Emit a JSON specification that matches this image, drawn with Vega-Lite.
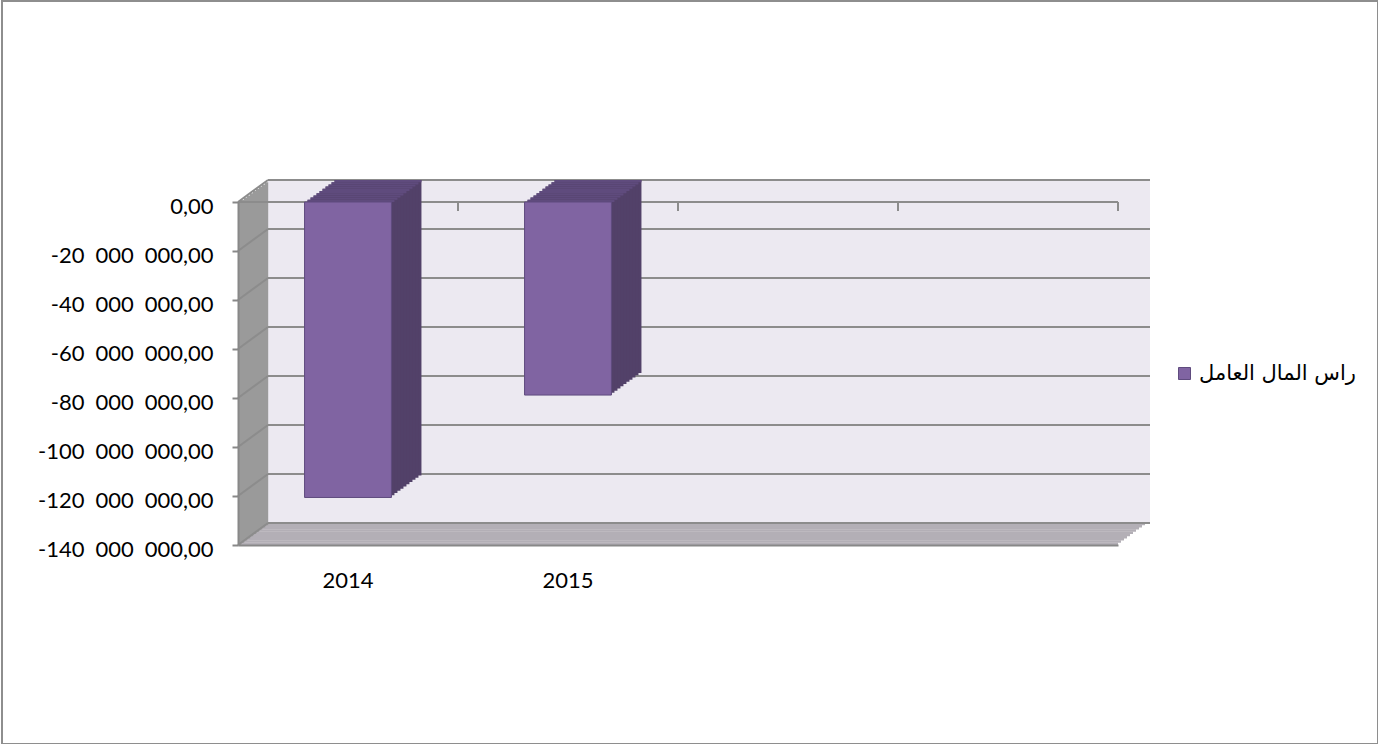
{
"$schema": "https://vega.github.io/schema/vega-lite/v6.json",
"width": 1376, "height": 743,
"autosize": {"type": "none"},
"padding": {"left": 2, "top": 1, "right": 0, "bottom": 0},
"background": "white",
"config": {
  "view": {"stroke": "#8E8E8E", "strokeWidth": 2},
  "axis": {"labelFont": "Lato", "labelFontSize": 22, "labelColor": "#000000", "domainColor": "#888888", "tickColor": "#888888", "domainWidth": 2, "tickWidth": 2, "grid": false},
  "locale": {"number": {"decimal": ",", "thousands": "\u2002", "grouping": [3], "currency": ["", ""], "minus": "-"}}
},
"datasets": {
  "bars": [{"cat": "2014", "v": -120600000}, {"cat": "2015", "v": -78800000}],
  "grid": [{"v": 0}, {"v": -20000000}, {"v": -40000000}, {"v": -60000000}, {"v": -80000000}, {"v": -100000000}, {"v": -120000000}, {"v": -140000000}],
  "ticks": [{"c": "2015"}, {"c": "x3"}, {"c": "x4"}],
  "one": [{"k": 1}]
},
"resolve": {"axis": {"x": "independent", "y": "independent"}},
"layer": [
  {"data": {"name": "one"}, "mark": {"type": "rect", "color": "#ECE9F1", "xOffset": 30, "x2Offset": 32, "yOffset": -22, "y2Offset": -22},
   "encoding": {"x": {"datum": "2014", "bandPosition": 0, "axis": null}, "x2": {"datum": "x4", "bandPosition": 1}, "y": {"datum": 0, "type": "quantitative", "axis": null}, "y2": {"datum": -140000000}}},

  {"data": {"name": "one"}, "mark": {"type": "rect", "color": "#B3AFB6", "xOffset": 0, "x2Offset": 0, "yOffset": -2.6, "y2Offset": 0},
   "encoding": {"x": {"datum": "2014", "bandPosition": 0, "axis": null}, "x2": {"datum": "x4", "bandPosition": 1}, "y": {"datum": -140000000, "type": "quantitative", "axis": null}, "y2": {"datum": -140000000}}},
  {"data": {"name": "one"}, "mark": {"type": "rect", "color": "#B3AFB6", "xOffset": 3, "x2Offset": 3, "yOffset": -4.8, "y2Offset": -2.2},
   "encoding": {"x": {"datum": "2014", "bandPosition": 0, "axis": null}, "x2": {"datum": "x4", "bandPosition": 1}, "y": {"datum": -140000000, "type": "quantitative", "axis": null}, "y2": {"datum": -140000000}}},
  {"data": {"name": "one"}, "mark": {"type": "rect", "color": "#B3AFB6", "xOffset": 6, "x2Offset": 6, "yOffset": -7, "y2Offset": -4.4},
   "encoding": {"x": {"datum": "2014", "bandPosition": 0, "axis": null}, "x2": {"datum": "x4", "bandPosition": 1}, "y": {"datum": -140000000, "type": "quantitative", "axis": null}, "y2": {"datum": -140000000}}},
  {"data": {"name": "one"}, "mark": {"type": "rect", "color": "#B3AFB6", "xOffset": 9, "x2Offset": 9, "yOffset": -9.2, "y2Offset": -6.6},
   "encoding": {"x": {"datum": "2014", "bandPosition": 0, "axis": null}, "x2": {"datum": "x4", "bandPosition": 1}, "y": {"datum": -140000000, "type": "quantitative", "axis": null}, "y2": {"datum": -140000000}}},
  {"data": {"name": "one"}, "mark": {"type": "rect", "color": "#B3AFB6", "xOffset": 12, "x2Offset": 12, "yOffset": -11.4, "y2Offset": -8.8},
   "encoding": {"x": {"datum": "2014", "bandPosition": 0, "axis": null}, "x2": {"datum": "x4", "bandPosition": 1}, "y": {"datum": -140000000, "type": "quantitative", "axis": null}, "y2": {"datum": -140000000}}},
  {"data": {"name": "one"}, "mark": {"type": "rect", "color": "#B3AFB6", "xOffset": 15, "x2Offset": 15, "yOffset": -13.6, "y2Offset": -11},
   "encoding": {"x": {"datum": "2014", "bandPosition": 0, "axis": null}, "x2": {"datum": "x4", "bandPosition": 1}, "y": {"datum": -140000000, "type": "quantitative", "axis": null}, "y2": {"datum": -140000000}}},
  {"data": {"name": "one"}, "mark": {"type": "rect", "color": "#B3AFB6", "xOffset": 18, "x2Offset": 18, "yOffset": -15.8, "y2Offset": -13.2},
   "encoding": {"x": {"datum": "2014", "bandPosition": 0, "axis": null}, "x2": {"datum": "x4", "bandPosition": 1}, "y": {"datum": -140000000, "type": "quantitative", "axis": null}, "y2": {"datum": -140000000}}},
  {"data": {"name": "one"}, "mark": {"type": "rect", "color": "#B3AFB6", "xOffset": 21, "x2Offset": 21, "yOffset": -18, "y2Offset": -15.4},
   "encoding": {"x": {"datum": "2014", "bandPosition": 0, "axis": null}, "x2": {"datum": "x4", "bandPosition": 1}, "y": {"datum": -140000000, "type": "quantitative", "axis": null}, "y2": {"datum": -140000000}}},
  {"data": {"name": "one"}, "mark": {"type": "rect", "color": "#B3AFB6", "xOffset": 24, "x2Offset": 24, "yOffset": -20.2, "y2Offset": -17.6},
   "encoding": {"x": {"datum": "2014", "bandPosition": 0, "axis": null}, "x2": {"datum": "x4", "bandPosition": 1}, "y": {"datum": -140000000, "type": "quantitative", "axis": null}, "y2": {"datum": -140000000}}},
  {"data": {"name": "one"}, "mark": {"type": "rect", "color": "#B3AFB6", "xOffset": 27, "x2Offset": 27, "yOffset": -22.4, "y2Offset": -19.8},
   "encoding": {"x": {"datum": "2014", "bandPosition": 0, "axis": null}, "x2": {"datum": "x4", "bandPosition": 1}, "y": {"datum": -140000000, "type": "quantitative", "axis": null}, "y2": {"datum": -140000000}}},

  {"data": {"name": "one"}, "mark": {"type": "rect", "color": "#9A9A9A", "xOffset": 0, "x2Offset": 3.2, "yOffset": 0, "y2Offset": 0},
   "encoding": {"x": {"datum": "2014", "bandPosition": 0, "axis": null}, "x2": {"datum": "2014", "bandPosition": 0}, "y": {"datum": 0, "type": "quantitative", "axis": null}, "y2": {"datum": -140000000}}},
  {"data": {"name": "one"}, "mark": {"type": "rect", "color": "#9A9A9A", "xOffset": 3, "x2Offset": 6.2, "yOffset": -2.2, "y2Offset": -2.2},
   "encoding": {"x": {"datum": "2014", "bandPosition": 0, "axis": null}, "x2": {"datum": "2014", "bandPosition": 0}, "y": {"datum": 0, "type": "quantitative", "axis": null}, "y2": {"datum": -140000000}}},
  {"data": {"name": "one"}, "mark": {"type": "rect", "color": "#9A9A9A", "xOffset": 6, "x2Offset": 9.2, "yOffset": -4.4, "y2Offset": -4.4},
   "encoding": {"x": {"datum": "2014", "bandPosition": 0, "axis": null}, "x2": {"datum": "2014", "bandPosition": 0}, "y": {"datum": 0, "type": "quantitative", "axis": null}, "y2": {"datum": -140000000}}},
  {"data": {"name": "one"}, "mark": {"type": "rect", "color": "#9A9A9A", "xOffset": 9, "x2Offset": 12.2, "yOffset": -6.6, "y2Offset": -6.6},
   "encoding": {"x": {"datum": "2014", "bandPosition": 0, "axis": null}, "x2": {"datum": "2014", "bandPosition": 0}, "y": {"datum": 0, "type": "quantitative", "axis": null}, "y2": {"datum": -140000000}}},
  {"data": {"name": "one"}, "mark": {"type": "rect", "color": "#9A9A9A", "xOffset": 12, "x2Offset": 15.2, "yOffset": -8.8, "y2Offset": -8.8},
   "encoding": {"x": {"datum": "2014", "bandPosition": 0, "axis": null}, "x2": {"datum": "2014", "bandPosition": 0}, "y": {"datum": 0, "type": "quantitative", "axis": null}, "y2": {"datum": -140000000}}},
  {"data": {"name": "one"}, "mark": {"type": "rect", "color": "#9A9A9A", "xOffset": 15, "x2Offset": 18.2, "yOffset": -11, "y2Offset": -11},
   "encoding": {"x": {"datum": "2014", "bandPosition": 0, "axis": null}, "x2": {"datum": "2014", "bandPosition": 0}, "y": {"datum": 0, "type": "quantitative", "axis": null}, "y2": {"datum": -140000000}}},
  {"data": {"name": "one"}, "mark": {"type": "rect", "color": "#9A9A9A", "xOffset": 18, "x2Offset": 21.2, "yOffset": -13.2, "y2Offset": -13.2},
   "encoding": {"x": {"datum": "2014", "bandPosition": 0, "axis": null}, "x2": {"datum": "2014", "bandPosition": 0}, "y": {"datum": 0, "type": "quantitative", "axis": null}, "y2": {"datum": -140000000}}},
  {"data": {"name": "one"}, "mark": {"type": "rect", "color": "#9A9A9A", "xOffset": 21, "x2Offset": 24.2, "yOffset": -15.4, "y2Offset": -15.4},
   "encoding": {"x": {"datum": "2014", "bandPosition": 0, "axis": null}, "x2": {"datum": "2014", "bandPosition": 0}, "y": {"datum": 0, "type": "quantitative", "axis": null}, "y2": {"datum": -140000000}}},
  {"data": {"name": "one"}, "mark": {"type": "rect", "color": "#9A9A9A", "xOffset": 24, "x2Offset": 27.2, "yOffset": -17.6, "y2Offset": -17.6},
   "encoding": {"x": {"datum": "2014", "bandPosition": 0, "axis": null}, "x2": {"datum": "2014", "bandPosition": 0}, "y": {"datum": 0, "type": "quantitative", "axis": null}, "y2": {"datum": -140000000}}},
  {"data": {"name": "one"}, "mark": {"type": "rect", "color": "#9A9A9A", "xOffset": 27, "x2Offset": 30.2, "yOffset": -19.8, "y2Offset": -19.8},
   "encoding": {"x": {"datum": "2014", "bandPosition": 0, "axis": null}, "x2": {"datum": "2014", "bandPosition": 0}, "y": {"datum": 0, "type": "quantitative", "axis": null}, "y2": {"datum": -140000000}}},

  {"data": {"name": "grid"}, "mark": {"type": "rule", "color": "#8C8C8C", "strokeWidth": 2, "xOffset": 30, "x2Offset": 32, "yOffset": -22},
   "encoding": {"x": {"datum": "2014", "bandPosition": 0, "axis": null}, "x2": {"datum": "x4", "bandPosition": 1}, "y": {"field": "v", "type": "quantitative", "axis": null}}},
  {"data": {"name": "grid"}, "mark": {"type": "rule", "color": "#8C8C8C", "strokeWidth": 2, "x2Offset": 30, "y2Offset": -22},
   "encoding": {"x": {"datum": "2014", "bandPosition": 0, "axis": null}, "x2": {"datum": "2014", "bandPosition": 0}, "y": {"field": "v", "type": "quantitative", "axis": null}, "y2": {"field": "v"}}},
  {"data": {"name": "one"}, "mark": {"type": "rule", "color": "#8C8C8C", "strokeWidth": 2},
   "encoding": {"x": {"datum": "2014", "bandPosition": 0, "axis": null}, "x2": {"datum": "x4", "bandPosition": 1}, "y": {"datum": 0, "type": "quantitative", "axis": null}}},
  {"data": {"name": "ticks"}, "mark": {"type": "rule", "color": "#8C8C8C", "strokeWidth": 2, "y2Offset": 9},
   "encoding": {"x": {"field": "c", "type": "nominal", "bandPosition": 0, "axis": null}, "y": {"datum": 0, "type": "quantitative", "axis": null}, "y2": {"datum": 0}}},
  {"data": {"name": "one"}, "mark": {"type": "rule", "color": "#8C8C8C", "strokeWidth": 2, "y2Offset": 9},
   "encoding": {"x": {"datum": "x4", "bandPosition": 1, "axis": null}, "y": {"datum": 0, "type": "quantitative", "axis": null}, "y2": {"datum": 0}}},

  {"data": {"name": "bars"}, "mark": {"type": "bar", "width": {"band": 0.395}, "color": "#524169", "xOffset": 30, "x2Offset": 30, "yOffset": -22, "y2Offset": -22},
   "encoding": {"x": {"field": "cat", "type": "nominal", "axis": null}, "y": {"field": "v", "type": "quantitative", "axis": null}}},
  {"data": {"name": "bars"}, "mark": {"type": "bar", "width": {"band": 0.395}, "color": "#5F4B7D", "xOffset": 30, "x2Offset": 30, "yOffset": -22, "y2Offset": -19.8},
   "encoding": {"x": {"field": "cat", "type": "nominal", "axis": null}, "y": {"datum": 0, "type": "quantitative", "axis": null}, "y2": {"datum": 0}}},
  {"data": {"name": "bars"}, "mark": {"type": "bar", "width": {"band": 0.395}, "color": "#524169", "xOffset": 27, "x2Offset": 27, "yOffset": -19.8, "y2Offset": -19.8},
   "encoding": {"x": {"field": "cat", "type": "nominal", "axis": null}, "y": {"field": "v", "type": "quantitative", "axis": null}}},
  {"data": {"name": "bars"}, "mark": {"type": "bar", "width": {"band": 0.395}, "color": "#5F4B7D", "xOffset": 27, "x2Offset": 27, "yOffset": -19.8, "y2Offset": -17.6},
   "encoding": {"x": {"field": "cat", "type": "nominal", "axis": null}, "y": {"datum": 0, "type": "quantitative", "axis": null}, "y2": {"datum": 0}}},
  {"data": {"name": "bars"}, "mark": {"type": "bar", "width": {"band": 0.395}, "color": "#524169", "xOffset": 24, "x2Offset": 24, "yOffset": -17.6, "y2Offset": -17.6},
   "encoding": {"x": {"field": "cat", "type": "nominal", "axis": null}, "y": {"field": "v", "type": "quantitative", "axis": null}}},
  {"data": {"name": "bars"}, "mark": {"type": "bar", "width": {"band": 0.395}, "color": "#5F4B7D", "xOffset": 24, "x2Offset": 24, "yOffset": -17.6, "y2Offset": -15.4},
   "encoding": {"x": {"field": "cat", "type": "nominal", "axis": null}, "y": {"datum": 0, "type": "quantitative", "axis": null}, "y2": {"datum": 0}}},
  {"data": {"name": "bars"}, "mark": {"type": "bar", "width": {"band": 0.395}, "color": "#524169", "xOffset": 21, "x2Offset": 21, "yOffset": -15.4, "y2Offset": -15.4},
   "encoding": {"x": {"field": "cat", "type": "nominal", "axis": null}, "y": {"field": "v", "type": "quantitative", "axis": null}}},
  {"data": {"name": "bars"}, "mark": {"type": "bar", "width": {"band": 0.395}, "color": "#5F4B7D", "xOffset": 21, "x2Offset": 21, "yOffset": -15.4, "y2Offset": -13.2},
   "encoding": {"x": {"field": "cat", "type": "nominal", "axis": null}, "y": {"datum": 0, "type": "quantitative", "axis": null}, "y2": {"datum": 0}}},
  {"data": {"name": "bars"}, "mark": {"type": "bar", "width": {"band": 0.395}, "color": "#524169", "xOffset": 18, "x2Offset": 18, "yOffset": -13.2, "y2Offset": -13.2},
   "encoding": {"x": {"field": "cat", "type": "nominal", "axis": null}, "y": {"field": "v", "type": "quantitative", "axis": null}}},
  {"data": {"name": "bars"}, "mark": {"type": "bar", "width": {"band": 0.395}, "color": "#5F4B7D", "xOffset": 18, "x2Offset": 18, "yOffset": -13.2, "y2Offset": -11},
   "encoding": {"x": {"field": "cat", "type": "nominal", "axis": null}, "y": {"datum": 0, "type": "quantitative", "axis": null}, "y2": {"datum": 0}}},
  {"data": {"name": "bars"}, "mark": {"type": "bar", "width": {"band": 0.395}, "color": "#524169", "xOffset": 15, "x2Offset": 15, "yOffset": -11, "y2Offset": -11},
   "encoding": {"x": {"field": "cat", "type": "nominal", "axis": null}, "y": {"field": "v", "type": "quantitative", "axis": null}}},
  {"data": {"name": "bars"}, "mark": {"type": "bar", "width": {"band": 0.395}, "color": "#5F4B7D", "xOffset": 15, "x2Offset": 15, "yOffset": -11, "y2Offset": -8.8},
   "encoding": {"x": {"field": "cat", "type": "nominal", "axis": null}, "y": {"datum": 0, "type": "quantitative", "axis": null}, "y2": {"datum": 0}}},
  {"data": {"name": "bars"}, "mark": {"type": "bar", "width": {"band": 0.395}, "color": "#524169", "xOffset": 12, "x2Offset": 12, "yOffset": -8.8, "y2Offset": -8.8},
   "encoding": {"x": {"field": "cat", "type": "nominal", "axis": null}, "y": {"field": "v", "type": "quantitative", "axis": null}}},
  {"data": {"name": "bars"}, "mark": {"type": "bar", "width": {"band": 0.395}, "color": "#5F4B7D", "xOffset": 12, "x2Offset": 12, "yOffset": -8.8, "y2Offset": -6.6},
   "encoding": {"x": {"field": "cat", "type": "nominal", "axis": null}, "y": {"datum": 0, "type": "quantitative", "axis": null}, "y2": {"datum": 0}}},
  {"data": {"name": "bars"}, "mark": {"type": "bar", "width": {"band": 0.395}, "color": "#524169", "xOffset": 9, "x2Offset": 9, "yOffset": -6.6, "y2Offset": -6.6},
   "encoding": {"x": {"field": "cat", "type": "nominal", "axis": null}, "y": {"field": "v", "type": "quantitative", "axis": null}}},
  {"data": {"name": "bars"}, "mark": {"type": "bar", "width": {"band": 0.395}, "color": "#5F4B7D", "xOffset": 9, "x2Offset": 9, "yOffset": -6.6, "y2Offset": -4.4},
   "encoding": {"x": {"field": "cat", "type": "nominal", "axis": null}, "y": {"datum": 0, "type": "quantitative", "axis": null}, "y2": {"datum": 0}}},
  {"data": {"name": "bars"}, "mark": {"type": "bar", "width": {"band": 0.395}, "color": "#524169", "xOffset": 6, "x2Offset": 6, "yOffset": -4.4, "y2Offset": -4.4},
   "encoding": {"x": {"field": "cat", "type": "nominal", "axis": null}, "y": {"field": "v", "type": "quantitative", "axis": null}}},
  {"data": {"name": "bars"}, "mark": {"type": "bar", "width": {"band": 0.395}, "color": "#5F4B7D", "xOffset": 6, "x2Offset": 6, "yOffset": -4.4, "y2Offset": -2.2},
   "encoding": {"x": {"field": "cat", "type": "nominal", "axis": null}, "y": {"datum": 0, "type": "quantitative", "axis": null}, "y2": {"datum": 0}}},
  {"data": {"name": "bars"}, "mark": {"type": "bar", "width": {"band": 0.395}, "color": "#524169", "xOffset": 3, "x2Offset": 3, "yOffset": -2.2, "y2Offset": -2.2},
   "encoding": {"x": {"field": "cat", "type": "nominal", "axis": null}, "y": {"field": "v", "type": "quantitative", "axis": null}}},
  {"data": {"name": "bars"}, "mark": {"type": "bar", "width": {"band": 0.395}, "color": "#5F4B7D", "xOffset": 3, "x2Offset": 3, "yOffset": -2.2, "y2Offset": 0},
   "encoding": {"x": {"field": "cat", "type": "nominal", "axis": null}, "y": {"datum": 0, "type": "quantitative", "axis": null}, "y2": {"datum": 0}}},

  {"data": {"name": "bars"}, "mark": {"type": "bar", "width": {"band": 0.395}, "stroke": "#5F4B7E", "strokeWidth": 1},
   "encoding": {
     "x": {"field": "cat", "type": "nominal", "sort": null,
           "scale": {"domain": ["2014", "2015", "x3", "x4"], "range": [236, 1116], "paddingInner": 0, "paddingOuter": 0},
           "axis": {"orient": "bottom", "offset": -199, "title": null, "domain": true, "ticks": false, "tickSize": 0, "labelPadding": 25, "labelAngle": 0, "labelExpr": "datum.label == 'x3' || datum.label == 'x4' ? '' : datum.label", "zindex": 1}},
     "y": {"field": "v", "type": "quantitative",
           "scale": {"domain": [-140000000, 0], "range": [544, 201], "nice": false, "zero": false},
           "axis": {"orient": "left", "offset": -236, "title": null, "values": [0, -20000000, -40000000, -60000000, -80000000, -100000000, -120000000, -140000000], "format": ",.2f", "tickSize": 6, "labelPadding": 19, "labelOffset": 4, "zindex": 1}},
     "color": {"datum": "راس المال العامل", "type": "nominal", "scale": {"range": ["#8064A2"]},
           "legend": {"orient": "none", "legendX": 1172, "legendY": 362, "title": null, "symbolType": "square", "symbolSize": 144, "symbolStrokeColor": "#5F4B7E", "symbolStrokeWidth": 1, "labelFont": "DejaVu Sans", "labelFontSize": 21, "labelOffset": 4, "padding": 0, "labelColor": "#000000"}}
   }}
]
}
